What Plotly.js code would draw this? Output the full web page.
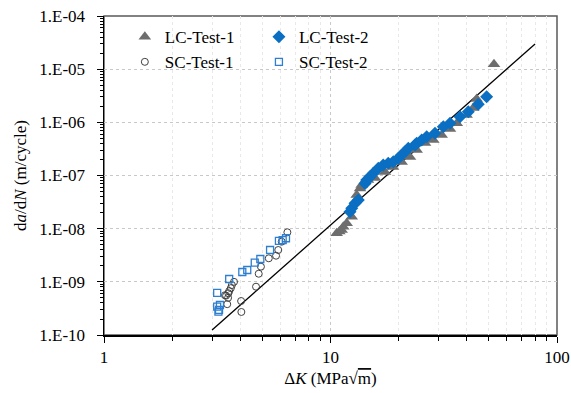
<!DOCTYPE html>
<html>
<head>
<meta charset="utf-8">
<script src="https://cdn.plot.ly/plotly-3.0.1.min.js"></script>
<style>html,body{margin:0;padding:0;background:#fff}#chart{width:571px;height:393px}</style>
</head>
<body>
<div id="chart"></div>
<script>
// ---- data ----
const lc1_dK   = [10.65,10.94,11.2,11.39,11.79,12.41,13.05,13.5,13.73,14.64,15.72,17.4,18.88,20.62,22.44,24.02,26.14,28.44,30.96,33.7,36.1,39.9,42.7,44.2,52.7];
const lc1_rate = [8.2e-9,8.8e-9,9.4e-9,1.09e-8,1.26e-8,1.68e-8,4.3e-8,5.7e-8,6.6e-8,8.2e-8,8.97e-8,1.16e-7,1.45e-7,1.79e-7,2.23e-7,3.02e-7,4.08e-7,4.66e-7,5.78e-7,7.5e-7,9.6e-7,1.37e-6,1.86e-6,2.75e-6,1.24e-5];

const lc2_dK   = [12.19,12.41,12.83,13.27,14.21,14.45,14.94,15.45,16.26,17.1,17.99,18.94,19.93,20.62,21.33,22.06,23.61,24.02,25.27,26.59,28.93,31.48,33.7,37.3,40.6,44.9,48.9];
const lc2_rate = [2.09e-8,2.42e-8,3.0e-8,3.46e-8,7.1e-8,8.2e-8,9.5e-8,1.10e-7,1.37e-7,1.58e-7,1.70e-7,1.82e-7,2.11e-7,2.43e-7,2.81e-7,3.25e-7,3.75e-7,4.04e-7,4.66e-7,5.37e-7,6.22e-7,8.28e-7,9.6e-7,1.28e-6,1.58e-6,2.18e-6,3.03e-6];

const sc1_dK   = [6.45,6.09,5.88,5.75,5.34,4.93,4.82,4.69,4.03,4.04,3.75,3.67,3.63,3.57,3.54,3.46,3.42,3.53,3.50];
const sc1_rate = [8.55e-9,5.69e-9,3.97e-9,3.1e-9,2.77e-9,1.93e-9,1.42e-9,8.1e-10,4.36e-10,2.71e-10,1.0e-9,8.7e-10,7.6e-10,6.7e-10,6.1e-10,5.5e-10,5.6e-10,5.0e-10,3.8e-10];

const sc2_dK   = [6.36,6.15,5.92,5.41,4.90,4.63,4.29,4.08,3.57,3.16,3.25,3.16,3.22,3.20];
const sc2_rate = [6.6e-9,6.1e-9,5.9e-9,3.97e-9,2.69e-9,2.29e-9,1.67e-9,1.53e-9,1.13e-9,6.2e-10,3.67e-10,3.41e-10,2.96e-10,2.75e-10];

const fit_dK   = [3, 80];
const fit_rate = [1.24e-10, 2.97e-5];

const yTickVals = [1e-10,1e-9,1e-8,1e-7,1e-6,1e-5,1e-4];
const yTickText = ['1.E-10','1.E-09','1.E-08','1.E-07','1.E-06','1.E-05','1.E-04'];
const xTickVals = [1,10,100];
const xTickText = ['1','10','100'];
const xMinor = [2,3,4,5,6,7,8,9,20,30,40,50,60,70,80,90];
const yMinor = [];
for (let e=-10;e<-4;e++){ for (let m=2;m<=9;m++){ yMinor.push(m*Math.pow(10,e)); } }

const FONT = 'Liberation Serif, Times New Roman, serif';

const traces = [
  {x: fit_dK, y: fit_rate, mode:'lines', line:{color:'#000', width:1.3}, showlegend:false, hoverinfo:'skip'},
  {x: sc1_dK, y: sc1_rate, name:'SC-Test-1', mode:'markers', legend:'legend', legendrank:2,
   marker:{symbol:'circle-open', size:7, color:'#404040', line:{width:1, color:'#404040'}}},
  {x: sc2_dK, y: sc2_rate, name:'SC-Test-2', mode:'markers', legend:'legend2', legendrank:2,
   marker:{symbol:'square-open', size:7, color:'#2f7fd0', line:{width:1.3, color:'#2f7fd0'}}},
  {x: lc1_dK, y: lc1_rate, name:'LC-Test-1', mode:'markers', legend:'legend', legendrank:1,
   marker:{symbol:'triangle-up', size:11, color:'#6e6e6e'}},
  {x: lc2_dK, y: lc2_rate, name:'LC-Test-2', mode:'markers', legend:'legend2', legendrank:1,
   marker:{symbol:'diamond', size:10, color:'#0a6fc2'}}
];

const legendCommon = {bgcolor:'rgba(0,0,0,0)', borderwidth:0, font:{family:FONT, size:17, color:'#000'},
  xanchor:'left', yanchor:'top', orientation:'v', traceorder:'normal', itemwidth:30};

const layout = {
  width:571, height:393,
  margin:{l:104, r:14, t:16, b:58},
  paper_bgcolor:'#fff', plot_bgcolor:'#fff',
  font:{family:FONT, size:17, color:'#000'},
  xaxis:{type:'log', range:[0,2], tickvals:xTickVals, ticktext:xTickText,
    ticks:'outside', ticklen:6, tickcolor:'#000', showline:true, linecolor:'#000', linewidth:1.5,
    showgrid:true, gridcolor:'#c8c8c8', griddash:'dot', gridwidth:1, zeroline:false,
    tickfont:{family:FONT, size:17},
    minor:{tickvals:xMinor, ticks:'outside', ticklen:4, tickcolor:'#000', showgrid:true, gridcolor:'#e8e8e8', gridwidth:1},
    title:{text:'Δ<i>K</i> (MPa√<span style="text-decoration:overline">m</span>)', font:{family:FONT, size:17}, standoff:6}},
  yaxis:{type:'log', range:[-10,-4], tickvals:yTickVals, ticktext:yTickText,
    ticks:'outside', ticklen:6, tickcolor:'#000', showline:true, linecolor:'#000', linewidth:1.5,
    showgrid:true, gridcolor:'#c8c8c8', griddash:'dot', gridwidth:1, zeroline:false,
    tickfont:{family:FONT, size:17}, ticklabelstandoff:8,
    minor:{tickvals:yMinor, ticks:'outside', ticklen:3, tickcolor:'#000', showgrid:false},
    title:{text:'d<i>a</i>/d<i>N</i> (m/cycle)', font:{family:FONT, size:17}, standoff:8}},
  showlegend:true,
  legend: Object.assign({x:0.046, y:0.99}, legendCommon),
  legend2: Object.assign({x:0.342, y:0.99}, legendCommon),
  shapes:[{type:'rect', xref:'paper', yref:'paper', x0:0, x1:1, y0:0, y1:1, line:{color:'#595959', width:1.5}, layer:'below'}]
};

Plotly.newPlot('chart', traces, layout, {displayModeBar:false, staticPlot:true});
</script>
</body>
</html>
